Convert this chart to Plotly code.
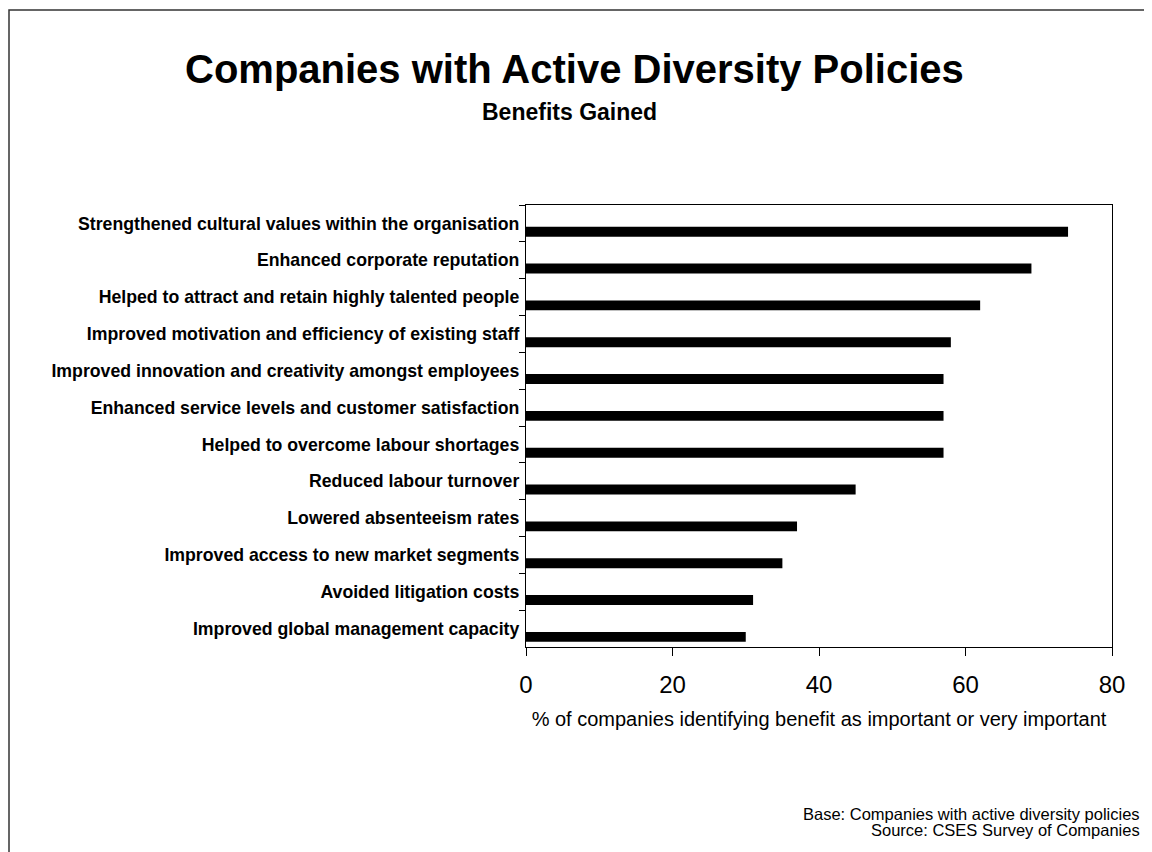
import plotly.graph_objects as go

categories = [
    "Strengthened cultural values within the organisation",
    "Enhanced corporate reputation",
    "Helped to attract and retain highly talented people",
    "Improved motivation and efficiency of existing staff",
    "Improved innovation and creativity amongst employees",
    "Enhanced service levels and customer satisfaction",
    "Helped to overcome labour shortages",
    "Reduced labour turnover",
    "Lowered absenteeism rates",
    "Improved access to new market segments",
    "Avoided litigation costs",
    "Improved global management capacity",
]
values = [74, 69, 62, 58, 57, 57, 57, 45, 37, 35, 31, 30]
x_ticks = [0, 20, 40, 60, 80]

FONT = "Arial, Liberation Sans, sans-serif"
W, H = 1152, 852
L, R, T, B = 518, 48, 197, 213
pw, ph = W - L - R, H - T - B

def px_x(p):
    return (p - L) / pw

def px_y(p):
    return (H - B - p) / ph

fig = go.Figure()
fig.add_trace(go.Bar(
    x=values,
    y=categories,
    orientation="h",
    marker=dict(color="black", line=dict(width=0)),
    width=0.27,
    offset=0.09,
    hoverinfo="x+y",
))

fig.update_layout(
    width=W, height=H,
    margin=dict(l=L, r=R, t=T, b=B, pad=0),
    paper_bgcolor="white",
    plot_bgcolor="white",
    showlegend=False,
    font=dict(family=FONT, color="black"),
    xaxis=dict(
        range=[0, 80],
        tickvals=x_ticks,
        ticktext=[str(v) for v in x_ticks],
        ticks="outside", ticklen=8, tickwidth=1.3, tickcolor="black",
        showline=True, linecolor="black", linewidth=1.3, mirror=True,
        showgrid=False, zeroline=False,
        tickfont=dict(size=24, family=FONT, color="black"),
        ticklabelstandoff=8,
        title=dict(
            text="% of companies identifying benefit as important or very important",
            font=dict(size=20, family=FONT, color="black"),
            standoff=15,
        ),
    ),
    yaxis=dict(
        type="category",
        categoryorder="array",
        categoryarray=categories,
        autorange="reversed",
        tickson="boundaries",
        ticks="outside", ticklen=6, tickwidth=1.3, tickcolor="black",
        showline=True, linecolor="black", linewidth=1.3, mirror=True,
        showgrid=False, zeroline=False,
        tickfont=dict(size=17.7, family=FONT, color="black", weight="bold"),
        ticklabelstandoff=2,
    ),
    annotations=[
        dict(text="Companies with Active Diversity Policies",
             xref="paper", yref="paper",
             x=px_x(566), y=px_y(61), xanchor="center", yanchor="middle",
             showarrow=False,
             font=dict(size=40, family=FONT, color="black", weight="bold")),
        dict(text="Benefits Gained", xref="paper", yref="paper",
             x=px_x(561), y=px_y(104), xanchor="center", yanchor="middle",
             showarrow=False,
             font=dict(size=23, family=FONT, color="black", weight="bold")),
        dict(text="Base: Companies with active diversity policies",
             xref="paper", yref="paper",
             x=px_x(1134), y=px_y(806), xanchor="right", yanchor="middle",
             showarrow=False, font=dict(size=16.5, family=FONT, color="black")),
        dict(text="Source: CSES Survey of Companies",
             xref="paper", yref="paper",
             x=px_x(1134), y=px_y(822), xanchor="right", yanchor="middle",
             showarrow=False, font=dict(size=16.5, family=FONT, color="black")),
    ],
    shapes=[
        dict(type="rect", xref="paper", yref="paper",
             x0=px_x(1), x1=px_x(W - 1), y0=px_y(H - 1), y1=px_y(2),
             line=dict(color="#333333", width=1.5), fillcolor="rgba(0,0,0,0)",
             layer="above"),
    ],
)

fig.write_html("out.html")
